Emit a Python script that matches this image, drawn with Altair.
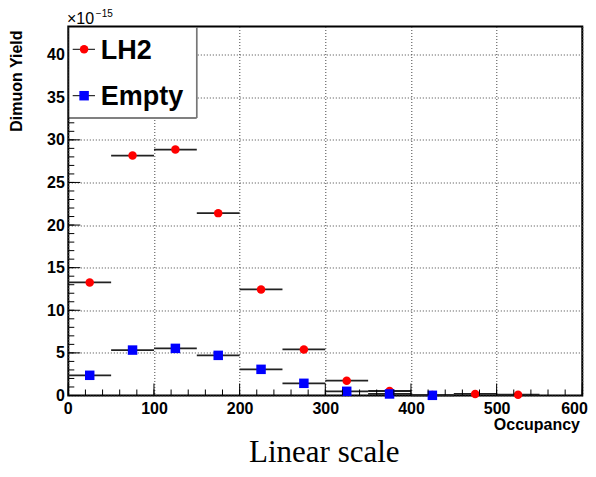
import altair as alt
import pandas as pd

# ---------------- data ----------------
lh2_centers = [25, 75, 125, 175, 225, 275, 325, 375, 425, 475, 525]
lh2_yield = [13.27, 28.15, 28.86, 21.4, 12.45, 5.41, 1.74, 0.53, 0.05, 0.18, 0.10]
empty_centers = [25, 75, 125, 175, 225, 275, 325, 375, 425]
empty_yield = [2.37, 5.33, 5.53, 4.71, 3.07, 1.43, 0.49, 0.18, 0.02]
bin_half_width = 25

x_major_ticks = [0, 100, 200, 300, 400, 500, 600]
x_minor_ticks = list(range(0, 601, 20))
y_major_ticks = [0, 5, 10, 15, 20, 25, 30, 35, 40]
y_minor_ticks = list(range(0, 44))

legend_labels = ["LH2", "Empty"]
x_title = "Occupancy"
y_title = "Dimuon Yield"
caption = "Linear scale"

# ---------------- layout ----------------
W, H = 514, 369
FONT = "Liberation Sans"


def series_df(c, v):
    return pd.DataFrame({
        "x": c, "y": v,
        "lo": [ci - bin_half_width for ci in c],
        "hi": [ci + bin_half_width for ci in c],
    })


lh2 = series_df(lh2_centers, lh2_yield)
emp = series_df(empty_centers, empty_yield)

xscale = alt.Scale(domain=[0, 600], range=[0, W], nice=False, zero=False, padding=0)
yscale = alt.Scale(domain=[0, 43.3], range=[H, 0], nice=False, zero=False, padding=0)
grid_common = dict(grid=True, gridDash=[1, 2], gridColor="#444", gridWidth=1,
                   ticks=False, domain=False, title=None,
                   labelOverlap=False,
                   labelFont=FONT, labelFontWeight="bold", labelFontSize=16,
                   labelColor="black")
xaxis = alt.Axis(values=x_major_ticks, labelPadding=5, labelFlush=True,
                 labelFlushOffset=5, **grid_common)
yaxis = alt.Axis(values=y_major_ticks, labelPadding=4, labelFlush=False, **grid_common)


def X(f):
    return alt.X(f, type="quantitative", scale=xscale, axis=xaxis)


def Y(f):
    return alt.Y(f, type="quantitative", scale=yscale, axis=yaxis)


def errbars(df):
    return alt.Chart(df).mark_rule(color="#222", strokeWidth=1.8).encode(
        x=X("lo"), x2="hi", y=Y("y"))


lh2_err = errbars(lh2)
lh2_pts = alt.Chart(lh2).mark_point(shape="circle", filled=True, color="#ff0000",
                                    size=72, opacity=1).encode(x=X("x"), y=Y("y"))
emp_err = errbars(emp)
emp_pts = alt.Chart(emp).mark_point(shape="square", filled=True, color="#0000ff",
                                    size=90, opacity=1).encode(x=X("x"), y=Y("y"))

# inward ticks
ymin_df = pd.DataFrame({"t": y_minor_ticks})
ymaj_df = pd.DataFrame({"t": y_major_ticks})
xmin_df = pd.DataFrame({"t": x_minor_ticks})
xmaj_df = pd.DataFrame({"t": x_major_ticks})

ytick_minor = alt.Chart(ymin_df).mark_rule(color="black", strokeWidth=1).encode(
    y=Y("t"), x=alt.value(0), x2=alt.value(6))
ytick_major = alt.Chart(ymaj_df).mark_rule(color="black", strokeWidth=1).encode(
    y=Y("t"), x=alt.value(0), x2=alt.value(12))
xtick_minor = alt.Chart(xmin_df).mark_rule(color="black", strokeWidth=1).encode(
    x=X("t"), y=alt.value(H), y2=alt.value(H - 6))
xtick_major = alt.Chart(xmaj_df).mark_rule(color="black", strokeWidth=1).encode(
    x=X("t"), y=alt.value(H), y2=alt.value(H - 12))

one = pd.DataFrame({"k": [0]})

# legend
leg_box = alt.Chart(one).mark_rect(fill="white", stroke="black", strokeWidth=1).encode(
    x=alt.value(0.5), x2=alt.value(128.4), y=alt.value(0.5), y2=alt.value(91.5))
leg_shadow = alt.Chart(one).mark_rule(color="#777", strokeWidth=1.5).encode(
    x=alt.value(128.4), x2=alt.value(128.4), y=alt.value(0.5), y2=alt.value(91.5))
leg_rows = pd.DataFrame({"label": legend_labels, "ym": [22.8, 69.2], "yb": [32.8, 78.0]})
leg_lines = alt.Chart(leg_rows).mark_rule(color="black", strokeWidth=1).encode(
    x=alt.value(4.4), x2=alt.value(26.7), y=alt.Y("ym:Q", scale=None),
    y2=alt.Y2("ym:Q"))
leg_circle = alt.Chart(leg_rows.iloc[[0]]).mark_point(
    shape="circle", filled=True, color="#ff0000", size=72, opacity=1).encode(
    x=alt.value(15.8), y=alt.Y("ym:Q", scale=None))
leg_square = alt.Chart(leg_rows.iloc[[1]]).mark_point(
    shape="square", filled=True, color="#0000ff", size=90, opacity=1).encode(
    x=alt.value(15.8), y=alt.Y("ym:Q", scale=None))
leg_text = alt.Chart(leg_rows).mark_text(
    font=FONT, fontWeight="bold", fontSize=27, align="left", baseline="alphabetic",
    color="black").encode(
    x=alt.value(32.4), y=alt.Y("yb:Q", scale=None), text="label:N")

# annotations
exp_main = alt.Chart(one).mark_text(
    text="×10", font=FONT, fontSize=16, fontWeight="normal", align="left",
    baseline="alphabetic", color="black").encode(x=alt.value(-1.3), y=alt.value(-2.5))
exp_sup = alt.Chart(one).mark_text(
    text="−15", font=FONT, fontSize=10, fontWeight="normal", align="left",
    baseline="alphabetic", color="black").encode(x=alt.value(27.5), y=alt.value(-9.5))
ytitle = alt.Chart(one).mark_text(
    text=y_title, font=FONT, fontSize=16, fontWeight="bold", align="right",
    baseline="middle", angle=270, color="black").encode(
    x=alt.value(-50.8), y=alt.value(4))
xtitle = alt.Chart(one).mark_text(
    text=x_title, font=FONT, fontSize=16, fontWeight="bold", align="right",
    baseline="alphabetic", color="black").encode(
    x=alt.value(511.7), y=alt.value(403.5))
cap = alt.Chart(one).mark_text(
    text=caption, font="Liberation Serif", fontSize=31, fontWeight="normal",
    align="center", baseline="alphabetic", color="black").encode(
    x=alt.value(256), y=alt.value(436))

chart = alt.layer(
    lh2_err, lh2_pts, emp_err, emp_pts,
    ytick_minor, ytick_major, xtick_minor, xtick_major,
    leg_box, leg_shadow, leg_lines, leg_circle, leg_square, leg_text,
    exp_main, exp_sup, ytitle, xtitle, cap,
).properties(
    width=W, height=H,
    autosize=alt.AutoSizeParams(type="none"),
    padding={"left": 60.3, "top": 18.5, "right": 5.5, "bottom": 73.5},
    background="white",
).configure_view(stroke="black", strokeWidth=2)

chart.save("out.html", embed_options={"renderer": "svg", "actions": False})
